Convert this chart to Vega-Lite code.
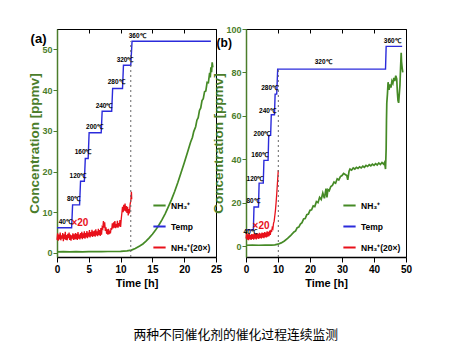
{
"$schema": "https://vega.github.io/schema/vega-lite/v6.json",
"background": "white",
"padding": {"left": 27, "top": 24, "right": 0, "bottom": 0},
"title": {"text": "两种不同催化剂的催化过程连续监测", "orient": "bottom", "anchor": "middle", "font": "Noto Sans CJK SC", "fontSize": 12.8, "fontWeight": "normal", "color": "black", "offset": 40, "dx": 16},
"datasets": {
"a_g": [{"t":0,"v":0.25},{"t":1,"v":0.3},{"t":2,"v":0.25},{"t":3,"v":0.3},{"t":4,"v":0.28},{"t":5,"v":0.3},{"t":6,"v":0.32},{"t":7,"v":0.3},{"t":8,"v":0.35},{"t":9,"v":0.35},{"t":10,"v":0.4},{"t":11,"v":0.5},{"t":11.7,"v":0.7},{"t":12.3,"v":1.1},{"t":13,"v":1.7},{"t":13.5,"v":2.2},{"t":14,"v":2.9},{"t":14.5,"v":3.7},{"t":15,"v":4.6},{"t":15.5,"v":5.6},{"t":16,"v":6.8},{"t":16.5,"v":8.1},{"t":17,"v":9.6},{"t":17.5,"v":11.3},{"t":18,"v":13.1},{"t":18.5,"v":15.1},{"t":19,"v":17.3},{"t":19.5,"v":19.7},{"t":20,"v":22.1},{"t":20.5,"v":24.6},{"t":21,"v":27.2},{"t":21.3,"v":28.4},{"t":21.5,"v":29.8},{"t":21.8,"v":31.0},{"t":22,"v":32.6},{"t":22.2,"v":33.2},{"t":22.4,"v":35.0},{"t":22.6,"v":35.6},{"t":22.8,"v":37.4},{"t":23,"v":37.9},{"t":23.2,"v":39.6},{"t":23.4,"v":39.8},{"t":23.6,"v":41.9},{"t":23.8,"v":41.8},{"t":24,"v":44.2},{"t":24.1,"v":43.1},{"t":24.2,"v":45.6},{"t":24.3,"v":44.4},{"t":24.4,"v":46.8},{"t":24.5,"v":45.6}],
"a_r": [{"t":0.0,"v":3.2},{"t":0.1,"v":4.8},{"t":0.2,"v":3.0},{"t":0.3,"v":4.5},{"t":0.4,"v":3.3},{"t":0.5,"v":5.0},{"t":0.6,"v":3.1},{"t":0.7,"v":4.3},{"t":0.8,"v":3.5},{"t":0.9,"v":4.9},{"t":1.0,"v":2.9},{"t":1.1,"v":4.6},{"t":1.2,"v":3.4},{"t":1.3,"v":5.2},{"t":1.4,"v":3.2},{"t":1.5,"v":4.4},{"t":1.6,"v":3.1},{"t":1.7,"v":4.7},{"t":1.8,"v":3.6},{"t":1.9,"v":5.0},{"t":2.0,"v":3.2},{"t":2.1,"v":4.5},{"t":2.2,"v":3.0},{"t":2.3,"v":4.3},{"t":2.4,"v":3.5},{"t":2.5,"v":4.8},{"t":2.6,"v":3.2},{"t":2.7,"v":4.6},{"t":2.8,"v":3.3},{"t":2.9,"v":4.9},{"t":3.0,"v":3.4},{"t":3.1,"v":4.7},{"t":3.2,"v":3.2},{"t":3.3,"v":5.1},{"t":3.4,"v":3.5},{"t":3.5,"v":4.5},{"t":3.6,"v":3.3},{"t":3.7,"v":4.9},{"t":3.8,"v":3.6},{"t":3.9,"v":5.2},{"t":4.0,"v":3.4},{"t":4.1,"v":4.8},{"t":4.2,"v":3.7},{"t":4.3,"v":5.3},{"t":4.4,"v":3.5},{"t":4.5,"v":4.9},{"t":4.6,"v":3.8},{"t":4.7,"v":5.4},{"t":4.8,"v":3.6},{"t":4.9,"v":5.0},{"t":5.0,"v":4.0},{"t":5.1,"v":5.6},{"t":5.2,"v":3.8},{"t":5.3,"v":5.1},{"t":5.4,"v":4.1},{"t":5.5,"v":5.7},{"t":5.6,"v":3.9},{"t":5.7,"v":5.3},{"t":5.8,"v":4.2},{"t":5.9,"v":5.5},{"t":6.0,"v":4.0},{"t":6.1,"v":5.8},{"t":6.2,"v":4.3},{"t":6.3,"v":5.3},{"t":6.4,"v":4.1},{"t":6.5,"v":5.9},{"t":6.6,"v":4.4},{"t":6.7,"v":5.6},{"t":6.8,"v":4.2},{"t":6.9,"v":6.1},{"t":7.0,"v":4.5},{"t":7.1,"v":6.3},{"t":7.2,"v":6.0},{"t":7.3,"v":7.8},{"t":7.4,"v":6.2},{"t":7.5,"v":7.5},{"t":7.6,"v":5.4},{"t":7.7,"v":6.3},{"t":7.8,"v":4.7},{"t":7.9,"v":5.8},{"t":8.0,"v":4.5},{"t":8.1,"v":5.9},{"t":8.2,"v":4.6},{"t":8.3,"v":5.5},{"t":8.4,"v":4.8},{"t":8.5,"v":6.1},{"t":8.6,"v":5.7},{"t":8.7,"v":7.3},{"t":8.8,"v":6.0},{"t":8.9,"v":7.5},{"t":9.0,"v":6.2},{"t":9.1,"v":7.8},{"t":9.2,"v":6.1},{"t":9.3,"v":7.1},{"t":9.4,"v":6.3},{"t":9.5,"v":7.9},{"t":9.6,"v":6.2},{"t":9.7,"v":7.3},{"t":9.8,"v":6.5},{"t":9.9,"v":8.1},{"t":10.0,"v":6.4},{"t":10.1,"v":8.3},{"t":10.2,"v":9.8},{"t":10.3,"v":11.3},{"t":10.4,"v":10.0},{"t":10.5,"v":11.8},{"t":10.6,"v":10.4},{"t":10.7,"v":12.1},{"t":10.8,"v":10.2},{"t":10.9,"v":11.5},{"t":11.0,"v":9.8},{"t":11.1,"v":11.3},{"t":11.2,"v":9.2},{"t":11.3,"v":10.8},{"t":11.4,"v":9.7},{"t":11.5,"v":12.0},{"t":11.6,"v":12.8},{"t":11.7,"v":15.0},{"t":11.75,"v":13.2}],
"a_t": [{"t":0,"v":6.2},{"t":2.3,"v":6.2},{"t":2.45,"v":11.8},{"t":3.55,"v":11.8},{"t":3.7,"v":17.6},{"t":4.3,"v":17.6},{"t":4.45,"v":23.2},{"t":4.9,"v":23.2},{"t":5.05,"v":29.5},{"t":6.95,"v":29.5},{"t":7.1,"v":34.8},{"t":8.6,"v":34.8},{"t":8.75,"v":40.4},{"t":10.3,"v":40.4},{"t":10.45,"v":46.1},{"t":11.6,"v":46.1},{"t":11.8,"v":52},{"t":24.2,"v":52}],
"a_lab": [{"t":1.3,"v":7.6,"l":"40℃"},{"t":2.6,"v":13.3,"l":"80℃"},{"t":3.3,"v":19.0,"l":"120℃"},{"t":4.1,"v":24.7,"l":"160℃"},{"t":5.9,"v":30.9,"l":"200℃"},{"t":7.4,"v":36.2,"l":"240℃"},{"t":9.3,"v":41.9,"l":"280℃"},{"t":10.7,"v":47.5,"l":"320℃"},{"t":12.6,"v":53.4,"l":"360℃"}],
"b_g": [{"t":0,"v":0.4},{"t":2,"v":0.45},{"t":4,"v":0.4},{"t":6,"v":0.5},{"t":8,"v":0.5},{"t":9,"v":0.6},{"t":10,"v":0.9},{"t":11,"v":1.5},{"t":12,"v":2.4},{"t":13,"v":3.6},{"t":14,"v":5.0},{"t":15,"v":6.5},{"t":15.5,"v":7.0},{"t":16,"v":8.5},{"t":16.5,"v":8.8},{"t":17,"v":10.2},{"t":17.5,"v":10.8},{"t":18,"v":12.5},{"t":18.5,"v":12.7},{"t":19,"v":14.5},{"t":19.5,"v":14.8},{"t":20,"v":16.5},{"t":20.5,"v":16.7},{"t":21,"v":18.5},{"t":21.5,"v":18.2},{"t":22,"v":20.5},{"t":22.5,"v":20.0},{"t":23,"v":22.5},{"t":23.5,"v":21.5},{"t":24,"v":24.5},{"t":24.5,"v":22.0},{"t":25,"v":26.5},{"t":25.3,"v":22.5},{"t":25.6,"v":26.0},{"t":26,"v":25.5},{"t":26.5,"v":27.5},{"t":27,"v":28.0},{"t":27.5,"v":29.5},{"t":28,"v":29.0},{"t":28.5,"v":31.0},{"t":29,"v":30.5},{"t":29.5,"v":32.0},{"t":30,"v":32.5},{"t":30.5,"v":33.5},{"t":31,"v":33.0},{"t":31.5,"v":32.5},{"t":31.8,"v":30.5},{"t":32.2,"v":34.5},{"t":32.5,"v":35.5},{"t":33,"v":35.0},{"t":33.5,"v":36.0},{"t":34,"v":35.5},{"t":34.5,"v":36.3},{"t":35,"v":35.8},{"t":35.5,"v":36.5},{"t":36,"v":36.0},{"t":36.5,"v":36.8},{"t":37,"v":36.3},{"t":37.5,"v":37.2},{"t":38,"v":36.7},{"t":38.5,"v":37.5},{"t":39,"v":37.0},{"t":39.5,"v":37.8},{"t":40,"v":37.2},{"t":40.5,"v":38.0},{"t":41,"v":37.4},{"t":41.5,"v":38.3},{"t":42,"v":37.6},{"t":42.5,"v":38.5},{"t":43,"v":37.8},{"t":43.3,"v":38.6},{"t":43.6,"v":35.5},{"t":43.8,"v":45},{"t":43.9,"v":58},{"t":44.0,"v":66},{"t":44.2,"v":70},{"t":44.4,"v":75.5},{"t":44.7,"v":72},{"t":45,"v":74.5},{"t":45.3,"v":73},{"t":45.6,"v":76},{"t":45.9,"v":75},{"t":46.2,"v":77.5},{"t":46.5,"v":76},{"t":46.8,"v":78.5},{"t":47.1,"v":77},{"t":47.3,"v":71},{"t":47.5,"v":67},{"t":47.7,"v":66},{"t":47.9,"v":70},{"t":48.1,"v":74},{"t":48.3,"v":82},{"t":48.5,"v":89},{"t":48.6,"v":85},{"t":48.8,"v":82},{"t":49.0,"v":80}],
"b_r": [{"t":0.0,"v":3.5},{"t":0.2,"v":6.0},{"t":0.4,"v":3.0},{"t":0.6,"v":5.5},{"t":0.8,"v":2.8},{"t":1.0,"v":5.8},{"t":1.2,"v":3.2},{"t":1.4,"v":5.2},{"t":1.6,"v":2.9},{"t":1.8,"v":5.6},{"t":2.0,"v":3.3},{"t":2.2,"v":5.4},{"t":2.4,"v":3.0},{"t":2.6,"v":5.9},{"t":2.8,"v":3.4},{"t":3.0,"v":5.5},{"t":3.2,"v":3.1},{"t":3.4,"v":6.0},{"t":3.6,"v":3.6},{"t":3.8,"v":5.7},{"t":4.0,"v":3.3},{"t":4.2,"v":6.1},{"t":4.4,"v":3.8},{"t":4.6,"v":5.8},{"t":4.8,"v":3.5},{"t":5.0,"v":6.3},{"t":5.2,"v":3.9},{"t":5.4,"v":6.0},{"t":5.6,"v":3.7},{"t":5.8,"v":6.5},{"t":6.0,"v":4.1},{"t":6.2,"v":6.2},{"t":6.4,"v":4.0},{"t":6.6,"v":6.8},{"t":6.8,"v":4.4},{"t":7.0,"v":6.6},{"t":7.2,"v":4.6},{"t":7.4,"v":7.2},{"t":7.6,"v":5.2},{"t":7.8,"v":7.5},{"t":8.0,"v":6.5},{"t":8.2,"v":8.5},{"t":8.4,"v":8.0},{"t":8.6,"v":10.5},{"t":8.8,"v":11.5},{"t":9.0,"v":14.0},{"t":9.2,"v":16.5},{"t":9.4,"v":20.0},{"t":9.6,"v":24.0},{"t":9.8,"v":28.5},{"t":10.0,"v":33.0},{"t":10.1,"v":35.0}],
"b_t": [{"t":0,"v":7.5},{"t":2.3,"v":7.5},{"t":2.5,"v":18},{"t":3.9,"v":18},{"t":4.1,"v":29},{"t":5.4,"v":29},{"t":5.6,"v":39.5},{"t":6.9,"v":39.5},{"t":7.1,"v":51},{"t":7.7,"v":51},{"t":7.9,"v":60.5},{"t":8.9,"v":60.5},{"t":9.1,"v":70},{"t":9.6,"v":70},{"t":9.9,"v":81.5},{"t":43.6,"v":81.5},{"t":43.8,"v":92},{"t":48.8,"v":92}],
"b_lab": [{"t":1.3,"v":6.3,"l":"40℃"},{"t":2.2,"v":21.0,"l":"80℃"},{"t":2.8,"v":31.0,"l":"120℃"},{"t":4.3,"v":42.0,"l":"160℃"},{"t":5.0,"v":51.8,"l":"200℃"},{"t":6.7,"v":62.3,"l":"240℃"},{"t":7.4,"v":72.7,"l":"280℃"},{"t":24.1,"v":84.6,"l":"320℃"},{"t":45.7,"v":94.4,"l":"360℃"}]
},
"hconcat": [
{
"width": 159, "height": 228,
"encoding": {
"x": {"field": "t", "type": "quantitative", "scale": {"domain": [0, 25], "nice": false, "zero": false}, "axis": {"values": [0,5,10,15,20,25], "title": "Time [h]"}},
"y": {"field": "v", "type": "quantitative", "scale": {"domain": [-1, 55], "nice": false, "zero": false}, "axis": {"values": [0,10,20,30,40,50], "title": "Concentration [ppmv]"}}
},
"layer": [
{"layer": [
{"data": {"name": "a_g"}, "mark": {"type": "line", "strokeWidth": 1.7}, "encoding": {"color": {"datum": "NH₃⁺", "type": "nominal", "scale": {"domain": ["NH₃⁺", "Temp", "NH₃⁺(20×)"], "range": ["#458a26", "#2b2bdb", "#e8101a"]}}}},
{"data": {"name": "a_r"}, "mark": {"type": "line", "strokeWidth": 1.3}, "encoding": {"color": {"datum": "NH₃⁺(20×)", "type": "nominal"}}},
{"data": {"name": "a_t"}, "mark": {"type": "line", "strokeWidth": 1.4}, "encoding": {"color": {"datum": "Temp", "type": "nominal"}}},
{"data": {"name": "a_lab"}, "mark": {"type": "text", "fontSize": 6.5, "fontWeight": "bold", "color": "black", "font": "Liberation Sans"}, "encoding": {"text": {"field": "l"}}},
{"data": {"values": [{"t":3.6,"v":7.3,"l":"×20"}]}, "mark": {"type": "text", "fontSize": 10, "fontWeight": "bold", "color": "#e8101a", "font": "Liberation Sans"}, "encoding": {"text": {"field": "l"}}},
{"data": {"values": [{"t":-2.9,"v":52.5,"l":"(a)"}]}, "mark": {"type": "text", "fontSize": 13, "fontWeight": "bold", "color": "black", "font": "Liberation Sans"}, "encoding": {"text": {"field": "l"}}}
]},
{"data": {"values": [{"t":11.6,"v":-1,"v2":52}]}, "mark": {"type": "rule", "strokeDash": [2, 3], "color": "#666666", "strokeWidth": 1}, "encoding": {"x": {"field": "t", "type": "quantitative", "scale": {"domain": [0, 25], "nice": false, "zero": false}, "axis": {"orient": "top", "values": [0,5,10,15,20,25], "labels": false, "title": null, "tickSize": -4, "domainWidth": 1}}, "y2": {"field": "v2"}}}
],
"resolve": {"axis": {"x": "independent"}}
},
{
"width": 160, "height": 228,
"encoding": {
"x": {"field": "t", "type": "quantitative", "scale": {"domain": [0, 50], "nice": false, "zero": false}, "axis": {"values": [0,10,20,30,40,50], "title": "Time [h]"}},
"y": {"field": "v", "type": "quantitative", "scale": {"domain": [-5, 100], "nice": false, "zero": false}, "axis": {"values": [0,20,40,60,80,100], "title": "Concentration [ppmv]"}}
},
"layer": [
{"layer": [
{"data": {"name": "b_g"}, "mark": {"type": "line", "strokeWidth": 1.7}, "encoding": {"color": {"datum": "NH₃⁺", "type": "nominal", "scale": {"domain": ["NH₃⁺", "Temp", "NH₃⁺(20×)"], "range": ["#458a26", "#2b2bdb", "#e8101a"]}}}},
{"data": {"name": "b_r"}, "mark": {"type": "line", "strokeWidth": 1.3}, "encoding": {"color": {"datum": "NH₃⁺(20×)", "type": "nominal"}}},
{"data": {"name": "b_t"}, "mark": {"type": "line", "strokeWidth": 1.4}, "encoding": {"color": {"datum": "Temp", "type": "nominal"}}},
{"data": {"name": "b_lab"}, "mark": {"type": "text", "fontSize": 6.5, "fontWeight": "bold", "color": "black", "font": "Liberation Sans"}, "encoding": {"text": {"field": "l"}}},
{"data": {"values": [{"t":4.7,"v":9.4,"l":"×20"}]}, "mark": {"type": "text", "fontSize": 10, "fontWeight": "bold", "color": "#e8101a", "font": "Liberation Sans"}, "encoding": {"text": {"field": "l"}}},
{"data": {"values": [{"t":-6.8,"v":93.5,"l":"(b)"}]}, "mark": {"type": "text", "fontSize": 12, "fontWeight": "bold", "color": "black", "font": "Liberation Sans"}, "encoding": {"text": {"field": "l"}}}
]},
{"data": {"values": [{"t":10.1,"v":-5,"v2":81.5}]}, "mark": {"type": "rule", "strokeDash": [2, 3], "color": "#666666", "strokeWidth": 1}, "encoding": {"x": {"field": "t", "type": "quantitative", "scale": {"domain": [0, 50], "nice": false, "zero": false}, "axis": {"orient": "top", "values": [0,10,20,30,40,50], "labels": false, "title": null, "tickSize": -4, "domainWidth": 1}}, "y2": {"field": "v2"}}}
],
"resolve": {"axis": {"x": "independent"}}
}
],
"spacing": -12,
"resolve": {"scale": {"color": "independent"}, "legend": {"color": "independent"}},
"config": {
"view": {"stroke": "black", "strokeWidth": 1},
"axisX": {"grid": false, "labelFont": "Liberation Sans", "labelFontWeight": "bold", "labelFontSize": 10, "labelColor": "black", "titleFont": "Liberation Sans", "titleFontSize": 11, "titleFontWeight": "bold", "titleColor": "black", "domainColor": "black", "domainWidth": 1.5, "tickColor": "black", "tickSize": 5, "labelPadding": 2, "titlePadding": 3, "labelFlush": false, "labelOverlap": false},
"axisY": {"grid": false, "labelFont": "Liberation Sans", "labelFontWeight": "bold", "labelFontSize": 9, "labelColor": "#4b7d2b", "titleFont": "Liberation Sans", "titleFontSize": 13.5, "titleFontWeight": "bold", "titleColor": "#4b7d2b", "domainColor": "#4b7d2b", "domainWidth": 1.5, "tickColor": "#4b7d2b", "tickSize": 4, "labelPadding": 1, "titlePadding": 0, "labelOverlap": false},
"legend": {"orient": "bottom-right", "title": null, "symbolType": "stroke", "symbolStrokeWidth": 2, "symbolSize": 150, "labelFont": "Liberation Sans", "labelFontSize": 8.5, "labelFontWeight": "bold", "labelColor": "black", "rowPadding": 9, "offset": 5, "padding": 0}
}
}
